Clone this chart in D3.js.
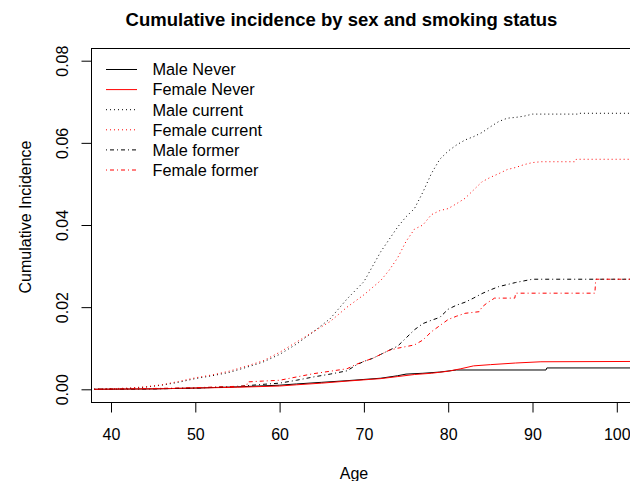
<!DOCTYPE html>
<html>
<head>
<meta charset="utf-8">
<script src="https://cdn.jsdelivr.net/npm/d3@7"></script>
<style>
  html, body { margin: 0; padding: 0; background: #fff; }
  svg { display: block; }
  text { font-family: "Liberation Sans", Arial, Helvetica, sans-serif; fill: #000; }
</style>
</head>
<body>
<svg id="chart" width="630" height="481"></svg>
<script>
// ---- data ----
const title = "Cumulative incidence by sex and smoking status";
const xLabel = "Age";
const yLabel = "Cumulative Incidence";
const xTicks = [40, 50, 60, 70, 80, 90, 100];
const yTicks = [0.00, 0.02, 0.04, 0.06, 0.08];
const seriesNames = ["Male Never", "Female Never", "Male current", "Female current", "Male former", "Female former"];
const seriesColors = ["#000000", "#ff0000", "#000000", "#ff0000", "#000000", "#ff0000"];
const seriesDash = ["none", "none", "1,3", "1,3", "1,3,4,3", "1,3,4,3"];

const maleNeverAge   = [38, 45, 50, 55, 60, 62, 65, 68, 70, 72, 74, 75, 77, 79, 81, 91.6, 91.7, 105];
const maleNeverVal   = [0, 0.0001, 0.0003, 0.0006, 0.0010, 0.0013, 0.0017, 0.0021, 0.0024, 0.0027, 0.0033, 0.0037, 0.0039, 0.0042, 0.0047, 0.0047, 0.0052, 0.0052];
const femaleNeverAge = [38, 45, 50, 55, 60, 62, 65, 68, 70, 72, 74, 76, 78, 80, 81.5, 83, 85, 88, 91, 105];
const femaleNeverVal = [0, 0.0001, 0.0003, 0.0005, 0.0008, 0.0011, 0.0015, 0.0020, 0.0023, 0.0026, 0.0031, 0.0036, 0.0039, 0.0044, 0.0050, 0.0057, 0.0060, 0.0064, 0.0067, 0.0068];
const maleCurrentAge = [38, 42, 44, 46, 48, 50, 52, 54, 56, 58, 60, 62, 64, 66, 68, 70, 72, 73, 74, 75, 76, 77, 78, 79, 80, 81, 82, 83, 84, 85, 86, 87, 88, 89, 90, 95.4, 95.5, 105];
const maleCurrentVal = [0, 0.0002, 0.0005, 0.0010, 0.0017, 0.0026, 0.0033, 0.0041, 0.0053, 0.0066, 0.0085, 0.0110, 0.0140, 0.0172, 0.0220, 0.0262, 0.0335, 0.0365, 0.0395, 0.0420, 0.0440, 0.0480, 0.0525, 0.0560, 0.0580, 0.0595, 0.0607, 0.0615, 0.0625, 0.0639, 0.0652, 0.0660, 0.0662, 0.0665, 0.0670, 0.0670, 0.0672, 0.0672];
const femaleCurrentAge = [38, 42, 44, 46, 48, 50, 52, 54, 56, 58, 60, 62, 64, 66, 68, 70, 72, 73, 74, 75, 76, 77, 78, 79, 80, 81, 82, 83, 84, 85, 86, 87, 88, 89, 90, 91, 95.1, 95.2, 105];
const femaleCurrentVal = [0, 0.0003, 0.0006, 0.0011, 0.0019, 0.0028, 0.0035, 0.0044, 0.0056, 0.0069, 0.0090, 0.0115, 0.0140, 0.0165, 0.0200, 0.0230, 0.0265, 0.0290, 0.0320, 0.0360, 0.0390, 0.0400, 0.0425, 0.0435, 0.0440, 0.0452, 0.0465, 0.0485, 0.0505, 0.0516, 0.0525, 0.0535, 0.0540, 0.0547, 0.0552, 0.0554, 0.0554, 0.0560, 0.0560];
const maleFormerAge = [38, 45, 50, 55, 58, 60, 62, 64, 66, 68, 69, 70, 71, 72, 73, 74, 75, 76, 77, 78, 79, 80, 81, 82, 83, 84, 85, 86, 87, 88, 89, 90, 105];
const maleFormerVal = [0, 0.0001, 0.0003, 0.0007, 0.0012, 0.0015, 0.0022, 0.0030, 0.0037, 0.0045, 0.0058, 0.0068, 0.0075, 0.0085, 0.0095, 0.0105, 0.0125, 0.0145, 0.0160, 0.0168, 0.0175, 0.0195, 0.0205, 0.0212, 0.0222, 0.0233, 0.0242, 0.0250, 0.0255, 0.0260, 0.0264, 0.0268, 0.0268];
const femaleFormerAge = [38, 45, 50, 56.1, 56.2, 58, 60, 62, 64, 66, 68, 69, 70, 71, 72, 73, 74, 76, 77, 78, 79, 80, 81, 82, 83.7, 84, 84.6, 85.5, 87.9, 88, 97.4, 97.5, 105];
const femaleFormerVal = [0, 0.0002, 0.0004, 0.0008, 0.0018, 0.0020, 0.0022, 0.0030, 0.0038, 0.0044, 0.0050, 0.0060, 0.0068, 0.0075, 0.0085, 0.0095, 0.0100, 0.0108, 0.0120, 0.0140, 0.0155, 0.0170, 0.0178, 0.0185, 0.0189, 0.0200, 0.0210, 0.0222, 0.0222, 0.0234, 0.0234, 0.0268, 0.0268];

const seriesAges = [maleNeverAge, femaleNeverAge, maleCurrentAge, femaleCurrentAge, maleFormerAge, femaleFormerAge];
const seriesVals = [maleNeverVal, femaleNeverVal, maleCurrentVal, femaleCurrentVal, maleFormerVal, femaleFormerVal];

// ---- layout ----
const plot = { left: 91.5, top: 48.5, bottom: 402.5, right: 700 };
const svg = d3.select("#chart");

const x = d3.scaleLinear().domain([40, 100]).range([111, 616.8]);
const y = d3.scaleLinear().domain([0, 0.08]).range([389.3, 60.7]);

svg.append("defs").append("clipPath").attr("id", "clip")
  .append("rect")
  .attr("x", plot.left).attr("y", plot.top)
  .attr("width", plot.right - plot.left).attr("height", plot.bottom - plot.top);

// curves
const line = d3.line()
  .x(d => x(d[0]))
  .y(d => y(d[1]));

const g = svg.append("g").attr("clip-path", "url(#clip)");
seriesNames.forEach((name, i) => {
  const pts = seriesAges[i].map((a, j) => [a, seriesVals[i][j]]);
  g.append("path")
    .datum(pts)
    .attr("d", line)
    .attr("fill", "none")
    .attr("stroke", seriesColors[i])
    .attr("stroke-width", 1)
    .attr("stroke-dasharray", seriesDash[i]);
});

// box
svg.append("rect")
  .attr("x", plot.left).attr("y", plot.top)
  .attr("width", plot.right - plot.left).attr("height", plot.bottom - plot.top)
  .attr("fill", "none").attr("stroke", "#000").attr("stroke-width", 1);

// x axis
const xAxis = svg.append("g")
  .attr("transform", `translate(0,${plot.bottom})`)
  .call(d3.axisBottom(x).tickValues(xTicks).tickSize(10).tickFormat(d3.format("d")));
xAxis.select(".domain").remove();
xAxis.selectAll(".tick line").attr("stroke", "#000");
xAxis.selectAll(".tick text")
  .attr("y", 37.5).attr("dy", 0)
  .style("font-size", "16px").style("font-family", "Liberation Sans, Arial, sans-serif")
  .attr("fill", "#000");

// y axis
const yAxis = svg.append("g")
  .attr("transform", `translate(${plot.left},0)`)
  .call(d3.axisLeft(y).tickValues(yTicks).tickSize(10).tickFormat(d3.format(".2f")));
yAxis.select(".domain").remove();
yAxis.selectAll(".tick line").attr("stroke", "#000");
yAxis.selectAll(".tick text")
  .attr("x", 0).attr("dy", 0)
  .attr("text-anchor", "middle")
  .attr("transform", "translate(-24,0) rotate(-90)")
  .style("font-size", "16px").style("font-family", "Liberation Sans, Arial, sans-serif")
  .attr("fill", "#000");

// title
svg.append("text")
  .attr("x", 341.5).attr("y", 25.5)
  .attr("text-anchor", "middle")
  .style("font-size", "18.5px").style("font-weight", "bold")
  .text(title);

// axis titles
svg.append("text")
  .attr("x", 354).attr("y", 479)
  .attr("text-anchor", "middle")
  .style("font-size", "16px")
  .text(xLabel);

svg.append("text")
  .attr("transform", "translate(31,217) rotate(-90)")
  .attr("text-anchor", "middle")
  .style("font-size", "16px")
  .text(yLabel);

// legend
const legend = svg.append("g");
seriesNames.forEach((name, i) => {
  const ly = 69.5 + 20.1 * i;
  legend.append("line")
    .attr("x1", 106).attr("x2", 137)
    .attr("y1", ly).attr("y2", ly)
    .attr("stroke", seriesColors[i])
    .attr("stroke-width", 1)
    .attr("stroke-dasharray", seriesDash[i]);
  legend.append("text")
    .attr("x", 152.5).attr("y", ly)
    .attr("dy", "0.36em")
    .style("font-size", "16.3px")
    .text(name);
});
</script>
</body>
</html>
